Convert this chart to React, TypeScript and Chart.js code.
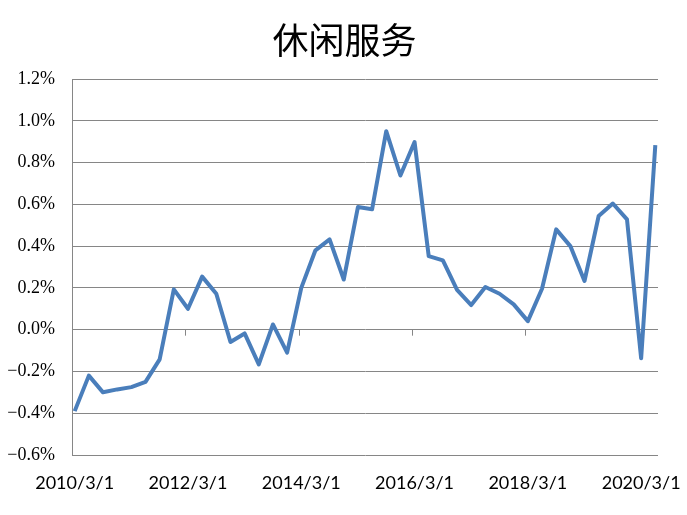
import React, { useEffect, useRef } from "react";
import { Chart, registerables } from "chart.js";

Chart.register(...registerables);

const TITLE = "休闲服务";

const DATES = [
  "2010/3/1", "2010/6/1", "2010/9/1", "2010/12/1",
  "2011/3/1", "2011/6/1", "2011/9/1", "2011/12/1",
  "2012/3/1", "2012/6/1", "2012/9/1", "2012/12/1",
  "2013/3/1", "2013/6/1", "2013/9/1", "2013/12/1",
  "2014/3/1", "2014/6/1", "2014/9/1", "2014/12/1",
  "2015/3/1", "2015/6/1", "2015/9/1", "2015/12/1",
  "2016/3/1", "2016/6/1", "2016/9/1", "2016/12/1",
  "2017/3/1", "2017/6/1", "2017/9/1", "2017/12/1",
  "2018/3/1", "2018/6/1", "2018/9/1", "2018/12/1",
  "2019/3/1", "2019/6/1", "2019/9/1", "2019/12/1",
  "2020/3/1", "2020/6/1",
];

// percent values
const VALUES = [
  -0.39, -0.22, -0.3, -0.286, -0.275, -0.25, -0.142, 0.193, 0.1, 0.254,
  0.172, -0.059, -0.018, -0.166, 0.025, -0.11, 0.2, 0.38, 0.432, 0.24,
  0.587, 0.576, 0.95, 0.738, 0.898, 0.352, 0.332, 0.19, 0.118, 0.204,
  0.172, 0.121, 0.041, 0.196, 0.48, 0.4, 0.233, 0.544, 0.604, 0.528,
  -0.137, 0.883,
];

const LABEL_INDICES = [0, 8, 16, 24, 32, 40];

const Y_MIN = -0.6;
const Y_MAX = 1.2;
const Y_STEP = 0.2;

const X_MIN = -0.19;
const X_MAX = VALUES.length - 1 + 0.19;

const GRID = "#868686";

const extras = {
  id: "extras",
  beforeDatasetsDraw(chart: any) {
    const { ctx, scales } = chart;
    const xs = scales.x;
    const ys = scales.y;
    const y0 = ys.getPixelForValue(0);
    ctx.save();
    ctx.strokeStyle = GRID;
    ctx.lineWidth = 1;
    for (let k = 8; k < VALUES.length; k += 8) {
      const px = Math.round(xs.getPixelForValue(X_MIN + k)) + 0.5;
      ctx.beginPath();
      ctx.moveTo(px, y0);
      ctx.lineTo(px, y0 + 6);
      ctx.stroke();
    }
    ctx.restore();
  },
  afterDraw(chart: any) {
    const { ctx } = chart;
    ctx.save();
    ctx.fillStyle = "#000";
    ctx.font = "normal 36px 'Noto Sans CJK SC'";
    ctx.textAlign = "center";
    ctx.textBaseline = "middle";
    ctx.fillText(TITLE, chart.width / 2 + 1, 40);
    ctx.restore();
  },
};

export default function App() {
  const ref = useRef<HTMLCanvasElement>(null);
  useEffect(() => {
    if (!ref.current) return;
    const chart = new Chart(ref.current, {
      type: "line",
      data: {
        datasets: [
          {
            data: VALUES.map((v, i) => ({ x: i, y: v })),
            borderColor: "#4a7ebb",
            borderWidth: 4,
            pointRadius: 0,
            tension: 0,
            fill: false,
            borderJoinStyle: "round",
          },
        ],
      },
      options: {
        responsive: false,
        animation: false,
        layout: { padding: { left: 0, right: 29, top: 0, bottom: 0 } },
        plugins: {
          legend: { display: false },
          tooltip: { enabled: false },
          title: {
            display: true,
            text: TITLE,
            color: "rgba(0,0,0,0)",
            font: { family: "'Noto Sans CJK SC'", size: 36, weight: "normal", lineHeight: 1 },
            padding: { top: 22, bottom: 21 },
          },
        },
        scales: {
          x: {
            type: "linear",
            min: X_MIN,
            max: X_MAX,
            afterBuildTicks: (s: any) => {
              s.ticks = LABEL_INDICES.map((v) => ({ value: v }));
            },
            afterFit: (s: any) => {
              s.height = 60;
              s.paddingLeft = 0;
              s.paddingRight = 0;
            },
            grid: { display: false, drawTicks: false },
            border: { display: false },
            ticks: {
              autoSkip: false,
              maxRotation: 0,
              padding: 17,
              color: "#000",
              font: { family: "Lato", size: 18 },
              callback: (v: any) => DATES[v] ?? "",
            },
          },
          y: {
            min: Y_MIN,
            max: Y_MAX,
            afterFit: (s: any) => {
              s.width = 72;
            },
            grid: { color: GRID, lineWidth: 1, drawTicks: false },
            border: { display: true, color: GRID, width: 1 },
            ticks: {
              stepSize: Y_STEP,
              padding: 17,
              color: "#000",
              font: { family: "'Liberation Serif'", size: 18 },
              callback: (v: any) => {
                const n = Math.round(Number(v) * 10) / 10;
                return (n < 0 ? "\u2212" : "") + Math.abs(n).toFixed(1) + "%";
              },
            },
          },
        },
      },
      plugins: [extras],
    } as any);
    return () => chart.destroy();
  }, []);
  return (
    <div style={{ position: "absolute", left: 0, top: 0, width: 687, height: 515, background: "#fff" }}>
      <canvas ref={ref} width={687} height={515} />
    </div>
  );
}
